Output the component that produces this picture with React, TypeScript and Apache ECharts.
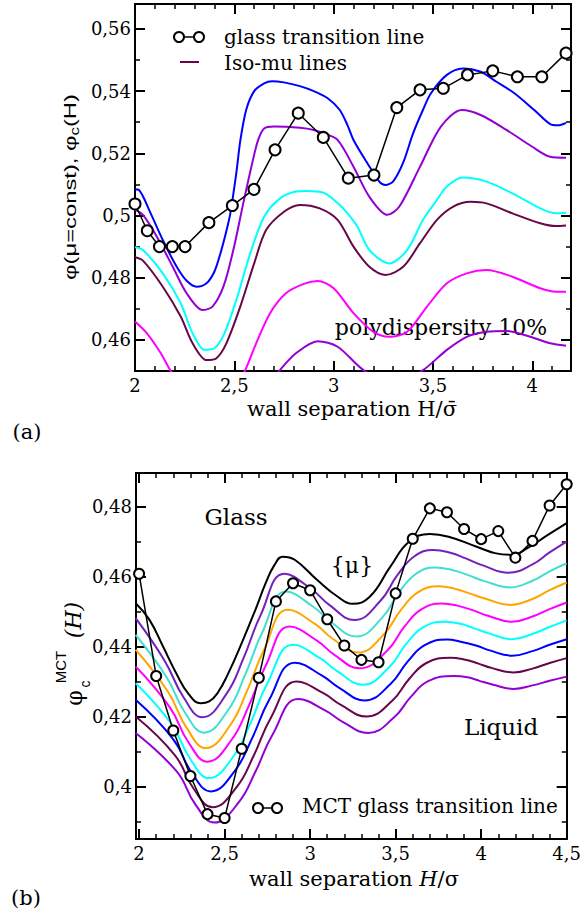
import React, { useEffect, useRef } from 'react';
import * as echarts from 'echarts';

// ---------- Panel (a) ----------
const aXMajor = [2, 2.5, 3, 3.5, 4];
const aXMinor = [2.1, 2.2, 2.3, 2.4, 2.6, 2.7, 2.8, 2.9, 3.1, 3.2, 3.3, 3.4, 3.6, 3.7, 3.8, 3.9, 4.1];
const aYMajor = [0.46, 0.48, 0.5, 0.52, 0.54, 0.56];
const aYMinor = [0.45, 0.47, 0.49, 0.51, 0.53, 0.55];

const aBlue = [[2.0,0.5084],[2.02,0.5082],[2.08,0.5005],[2.14,0.4921],[2.21,0.4835],[2.26,0.4790],[2.31,0.4771],[2.36,0.4782],[2.40,0.4820],[2.43,0.4878],[2.46,0.4950],[2.48,0.5007],[2.51,0.5136],[2.53,0.5240],[2.56,0.5340],[2.60,0.5400],[2.65,0.5425],[2.69,0.5432],[2.75,0.5428],[2.83,0.5416],[2.90,0.5400],[2.97,0.5377],[3.03,0.5340],[3.07,0.5290],[3.10,0.5243],[3.17,0.5168],[3.23,0.5109],[3.26,0.5098],[3.30,0.5110],[3.35,0.5170],[3.40,0.5264],[3.45,0.5340],[3.49,0.5393],[3.57,0.5452],[3.65,0.5473],[3.74,0.5462],[3.82,0.5430],[3.91,0.5393],[4.01,0.5339],[4.09,0.5294],[4.13,0.5290],[4.17,0.5298]];
const aViolet = [[2.0,0.5018],[2.04,0.5002],[2.11,0.4932],[2.19,0.4835],[2.26,0.4750],[2.34,0.4696],[2.39,0.4707],[2.445,0.4771],[2.495,0.4889],[2.545,0.5039],[2.59,0.5168],[2.62,0.5243],[2.65,0.5280],[2.70,0.5286],[2.83,0.5282],[2.90,0.5275],[2.96,0.5262],[3.02,0.5243],[3.10,0.5157],[3.18,0.5060],[3.27,0.5002],[3.33,0.5028],[3.435,0.5157],[3.54,0.5286],[3.645,0.5339],[3.74,0.5323],[3.87,0.5275],[4.0,0.5221],[4.09,0.5189],[4.17,0.5186]];
const aCyan = [[2.0,0.4898],[2.04,0.4889],[2.14,0.4814],[2.23,0.4718],[2.29,0.4621],[2.35,0.4568],[2.40,0.4573],[2.45,0.4621],[2.51,0.4728],[2.58,0.4878],[2.65,0.4996],[2.73,0.5055],[2.81,0.5077],[2.86,0.5079],[2.95,0.5073],[3.02,0.5040],[3.07,0.5007],[3.12,0.4964],[3.18,0.4889],[3.28,0.4846],[3.37,0.4889],[3.45,0.4986],[3.52,0.5050],[3.57,0.5093],[3.65,0.5122],[3.77,0.5109],[3.9,0.5071],[4.04,0.5023],[4.12,0.5007],[4.17,0.5009]];
const aMaroon = [[2.0,0.4866],[2.04,0.4855],[2.14,0.4771],[2.23,0.4675],[2.29,0.4589],[2.36,0.4535],[2.41,0.4541],[2.46,0.4589],[2.53,0.4707],[2.60,0.4846],[2.66,0.4953],[2.75,0.5012],[2.83,0.5034],[2.93,0.5023],[3.02,0.4986],[3.10,0.4900],[3.18,0.4835],[3.26,0.4809],[3.35,0.4835],[3.435,0.4911],[3.52,0.4986],[3.60,0.5028],[3.69,0.5044],[3.77,0.5039],[3.9,0.5007],[4.04,0.4975],[4.12,0.4966],[4.17,0.4968]];
const aMagenta = [[2.0,0.4659],[2.06,0.4621],[2.13,0.4557],[2.18,0.4500],[2.25,0.4440],[2.35,0.4395],[2.45,0.4405],[2.50,0.4440],[2.555,0.4503],[2.61,0.4589],[2.68,0.4686],[2.76,0.4750],[2.85,0.4780],[2.92,0.4789],[3.0,0.4766],[3.1,0.4686],[3.2,0.4626],[3.28,0.4610],[3.37,0.4626],[3.47,0.4707],[3.57,0.4782],[3.67,0.4814],[3.77,0.4825],[3.9,0.4803],[4.04,0.4766],[4.12,0.4755],[4.17,0.4755]];
const aViolet2 = [[2.0,0.4400],[2.2,0.4310],[2.4,0.4290],[2.6,0.4400],[2.73,0.4503],[2.81,0.4557],[2.92,0.4596],[3.02,0.4578],[3.15,0.4503],[3.3,0.4455],[3.45,0.4503],[3.57,0.4568],[3.67,0.4610],[3.77,0.4626],[3.87,0.4629],[3.99,0.4610],[4.09,0.4589],[4.17,0.4581]];
const aGlass = [[2.0,0.5037],[2.062,0.4951],[2.123,0.4900],[2.188,0.4900],[2.252,0.4900],[2.372,0.4977],[2.49,0.5032],[2.599,0.5084],[2.705,0.5211],[2.822,0.5329],[2.948,0.5251],[3.074,0.5120],[3.203,0.5130],[3.318,0.5347],[3.435,0.5404],[3.552,0.5409],[3.674,0.5452],[3.801,0.5465],[3.925,0.5446],[4.048,0.5446],[4.17,0.5522]];

// ---------- Panel (b) ----------
const bXMajor = [2, 2.5, 3, 3.5, 4, 4.5];
const bXMinor = [2.1, 2.2, 2.3, 2.4, 2.6, 2.7, 2.8, 2.9, 3.1, 3.2, 3.3, 3.4, 3.6, 3.7, 3.8, 3.9, 4.1, 4.2, 4.3, 4.4];
const bYMajor = [0.4, 0.42, 0.44, 0.46, 0.48];
const bYMinor = [0.39, 0.41, 0.43, 0.45, 0.47];

const bBlack = [[1.98,0.4524],[2.06,0.4477],[2.14,0.4400],[2.22,0.4321],[2.29,0.4264],[2.36,0.4238],[2.41,0.4243],[2.46,0.4268],[2.52,0.4322],[2.60,0.4410],[2.68,0.4505],[2.74,0.4581],[2.79,0.4632],[2.84,0.4657],[2.91,0.4648],[3.04,0.4591],[3.16,0.4543],[3.25,0.4522],[3.35,0.4543],[3.47,0.4629],[3.58,0.4700],[3.70,0.4722],[3.81,0.4714],[3.97,0.4686],[4.08,0.4667],[4.18,0.4662],[4.27,0.4681],[4.39,0.4719],[4.5,0.4753]];
const bIndigo = [[1.98,0.4481],[2.15,0.4359],[2.26,0.4255],[2.37,0.4198],[2.51,0.4264],[2.61,0.4366],[2.71,0.4489],[2.85,0.4608],[3.01,0.4563],[3.11,0.4520],[3.26,0.4476],[3.41,0.4530],[3.51,0.4604],[3.61,0.4658],[3.72,0.4676],[3.82,0.4668],[3.91,0.4652],[4.01,0.4632],[4.16,0.4611],[4.3,0.4635],[4.4,0.4669],[4.5,0.4700]];
const bTurquoise = [[1.98,0.4433],[2.16,0.4313],[2.27,0.4210],[2.38,0.4154],[2.52,0.4218],[2.62,0.4319],[2.72,0.4440],[2.86,0.4557],[3.02,0.4513],[3.12,0.4471],[3.27,0.4429],[3.42,0.4482],[3.52,0.4555],[3.62,0.4608],[3.73,0.4626],[3.83,0.4619],[3.92,0.4605],[4.02,0.4587],[4.17,0.4569],[4.3,0.4588],[4.4,0.4615],[4.5,0.4638]];
const bOrange = [[1.98,0.4391],[2.17,0.4270],[2.28,0.4166],[2.39,0.4110],[2.53,0.4173],[2.63,0.4272],[2.73,0.4390],[2.87,0.4505],[3.03,0.4464],[3.13,0.4423],[3.28,0.4383],[3.43,0.4434],[3.53,0.4504],[3.63,0.4555],[3.75,0.4572],[3.84,0.4566],[3.93,0.4552],[4.03,0.4536],[4.17,0.4519],[4.3,0.4536],[4.4,0.4561],[4.5,0.4583]];
const bMagenta = [[1.98,0.4343],[2.18,0.4226],[2.29,0.4125],[2.40,0.4071],[2.54,0.4133],[2.64,0.4229],[2.74,0.4345],[2.88,0.4457],[3.04,0.4417],[3.14,0.4377],[3.29,0.4338],[3.45,0.4388],[3.55,0.4456],[3.65,0.4506],[3.77,0.4523],[3.86,0.4517],[3.95,0.4504],[4.04,0.4488],[4.18,0.4471],[4.3,0.4486],[4.4,0.4507],[4.5,0.4526]];
const bCyan = [[1.98,0.4295],[2.19,0.4178],[2.30,0.4078],[2.41,0.4024],[2.55,0.4085],[2.65,0.4180],[2.75,0.4295],[2.90,0.4405],[3.06,0.4366],[3.16,0.4329],[3.31,0.4291],[3.46,0.4340],[3.56,0.4406],[3.66,0.4455],[3.79,0.4471],[3.88,0.4465],[3.96,0.4452],[4.05,0.4437],[4.18,0.4421],[4.3,0.4436],[4.4,0.4456],[4.5,0.4475]];
const bBlue = [[1.98,0.4248],[2.20,0.4135],[2.31,0.4038],[2.42,0.3986],[2.56,0.4045],[2.66,0.4137],[2.76,0.4247],[2.91,0.4354],[3.07,0.4317],[3.17,0.4282],[3.32,0.4246],[3.47,0.4293],[3.57,0.4357],[3.67,0.4404],[3.80,0.4420],[3.88,0.4414],[3.97,0.4403],[4.05,0.4389],[4.18,0.4374],[4.3,0.4387],[4.4,0.4405],[4.5,0.4421]];
const bMaroon = [[1.98,0.4200],[2.21,0.4089],[2.32,0.3993],[2.43,0.3941],[2.57,0.3998],[2.67,0.4088],[2.77,0.4196],[2.92,0.4300],[3.08,0.4266],[3.18,0.4233],[3.33,0.4200],[3.48,0.4245],[3.58,0.4308],[3.68,0.4353],[3.82,0.4368],[3.90,0.4363],[3.98,0.4352],[4.06,0.4339],[4.19,0.4326],[4.3,0.4337],[4.4,0.4353],[4.5,0.4367]];
const bViolet = [[1.98,0.4153],[2.22,0.4043],[2.33,0.3948],[2.44,0.3897],[2.58,0.3953],[2.68,0.4042],[2.78,0.4148],[2.93,0.4250],[3.09,0.4217],[3.19,0.4185],[3.34,0.4153],[3.49,0.4197],[3.59,0.4257],[3.69,0.4301],[3.84,0.4316],[3.92,0.4312],[3.99,0.4302],[4.07,0.4291],[4.19,0.4279],[4.3,0.4289],[4.4,0.4302],[4.5,0.4314]];
const bGlassX = [2.0, 2.1, 2.2, 2.3, 2.4, 2.5, 2.6, 2.7, 2.8, 2.9, 3.0, 3.1, 3.2, 3.3, 3.4, 3.5, 3.6, 3.7, 3.8, 3.9, 4.0, 4.1, 4.2, 4.3, 4.4, 4.5];
const bGlassY = [0.4608, 0.4316, 0.4160, 0.4030, 0.3921, 0.3910, 0.4108, 0.4311, 0.4529, 0.4581, 0.4561, 0.4478, 0.4403, 0.4362, 0.4355, 0.4552, 0.4708, 0.4795, 0.4784, 0.4736, 0.4707, 0.4730, 0.4654, 0.4702, 0.4803, 0.4864];

const SERIF = 'DejaVu Serif';
const SANS = 'Liberation Sans';
const fmt = (v: number) => String(v).replace('.', ',');

function xAxes(grid: number, min: number, max: number, major: number[], minor: number[]) {
  const base = { type: 'value', gridIndex: grid, min, max, splitLine: { show: false } };
  const line = { show: true, onZero: false, lineStyle: { color: '#000', width: 2 } };
  const majTick = { show: true, inside: true, length: 10, lineStyle: { color: '#000', width: 2 }, customValues: major };
  const minTick = { show: true, inside: true, length: 5, lineStyle: { color: '#000', width: 1.5 }, customValues: minor };
  return [
    { ...base, position: 'bottom', axisLine: line, axisTick: majTick,
      axisLabel: { show: true, customValues: major, formatter: fmt, margin: 5, color: '#000', fontSize: 18, fontFamily: SERIF } },
    { ...base, position: 'bottom', axisLine: { show: false, onZero: false }, axisTick: minTick, axisLabel: { show: false } },
    { ...base, position: 'top', axisLine: line, axisTick: majTick, axisLabel: { show: false } },
    { ...base, position: 'top', axisLine: { show: false, onZero: false }, axisTick: minTick, axisLabel: { show: false } },
  ];
}
function yAxes(grid: number, min: number, max: number, major: number[], minor: number[]) {
  const base = { type: 'value', gridIndex: grid, min, max, splitLine: { show: false } };
  const line = { show: true, onZero: false, lineStyle: { color: '#000', width: 2 } };
  const majTick = { show: true, inside: true, length: 10, lineStyle: { color: '#000', width: 2 }, customValues: major };
  const minTick = { show: true, inside: true, length: 5, lineStyle: { color: '#000', width: 1.5 }, customValues: minor };
  return [
    { ...base, position: 'left', axisLine: line, axisTick: majTick,
      axisLabel: { show: true, customValues: major, formatter: fmt, margin: 4, color: '#000', fontSize: 18, fontFamily: SERIF } },
    { ...base, position: 'left', axisLine: { show: false, onZero: false }, axisTick: minTick, axisLabel: { show: false } },
    { ...base, position: 'right', axisLine: line, axisTick: majTick, axisLabel: { show: false } },
    { ...base, position: 'right', axisLine: { show: false, onZero: false }, axisTick: minTick, axisLabel: { show: false } },
  ];
}

function curve(data: number[][], color: string, xi: number, smooth = 0.3) {
  return {
    type: 'line', xAxisIndex: xi, yAxisIndex: xi, data, showSymbol: false, symbol: 'none',
    smooth, clip: true, silent: true, lineStyle: { color, width: 2 }, z: 2,
  };
}
function glass(data: number[][], xi: number, size: number) {
  return {
    type: 'line', xAxisIndex: xi, yAxisIndex: xi, data, symbol: 'emptyCircle', symbolSize: size,
    showSymbol: true, clip: false, silent: true, lineStyle: { color: '#000', width: 1.5 },
    itemStyle: { color: '#000', borderColor: '#000', borderWidth: 2 }, z: 3,
  };
}

function txt(text: string, x: number, y: number, size: number, extra: any = {}, styleExtra: any = {}) {
  return {
    type: 'text', x, y, silent: true, ...extra,
    style: { text, fontSize: size, fontFamily: SERIF, fill: '#000', align: 'center', verticalAlign: 'middle',
      textAlign: 'center', textVerticalAlign: 'middle', ...styleExtra },
  };
}
function oo(x1: number, x2: number, y: number) {
  return [
    { type: 'line', silent: true, shape: { x1, y1: y, x2, y2: y }, style: { stroke: '#000', lineWidth: 1.5 } },
    { type: 'circle', silent: true, shape: { cx: x1, cy: y, r: 5 }, style: { fill: '#fff', stroke: '#000', lineWidth: 2 } },
    { type: 'circle', silent: true, shape: { cx: x2, cy: y, r: 5 }, style: { fill: '#fff', stroke: '#000', lineWidth: 2 } },
  ];
}

const bGlass = bGlassX.map((x, i) => [x, bGlassY[i]]);

const option: any = {
  animation: false,
  backgroundColor: '#fff',
  grid: [
    { left: 135, top: 4, width: 436, height: 367 },
    { left: 136, top: 473, width: 436, height: 366 },
  ],
  xAxis: [...xAxes(0, 2, 4.195, aXMajor, aXMinor), ...xAxes(1, 1.982, 4.5, bXMajor, bXMinor)],
  yAxis: [...yAxes(0, 0.45, 0.568, aYMajor, aYMinor), ...yAxes(1, 0.385, 0.4896, bYMajor, bYMinor)],
  series: [
    curve(aBlue, '#0000ff', 0),
    curve(aViolet, '#9400d3', 0),
    curve(aCyan, '#00ffff', 0),
    curve(aMaroon, '#670748', 0),
    curve(aMagenta, '#ff00ff', 0),
    curve(aViolet2, '#9400d3', 0),
    glass(aGlass, 0, 11),
    curve(bBlack, '#000000', 4, 0.45),
    curve(bIndigo, '#7221bc', 4, 0.45),
    curve(bTurquoise, '#40e0d0', 4, 0.45),
    curve(bOrange, '#ffa500', 4, 0.45),
    curve(bMagenta, '#ff00ff', 4, 0.45),
    curve(bCyan, '#00ffff', 4, 0.45),
    curve(bBlue, '#0000ff', 4, 0.45),
    curve(bMaroon, '#670748', 4, 0.45),
    curve(bViolet, '#9400d3', 4, 0.45),
    glass(bGlass, 4, 10),
  ],
  graphic: {
    elements: [
      // panel (a) legend
      ...oo(179, 199, 37),
      txt('glass transition line', 224, 37, 20, {}, { align: 'left', textAlign: 'left' }),
      { type: 'line', silent: true, shape: { x1: 180, y1: 62, x2: 199, y2: 62 }, style: { stroke: '#670748', lineWidth: 2 } },
      txt('Iso-mu lines', 224, 63, 20, {}, { align: 'left', textAlign: 'left' }),
      txt('polydispersity 10%', 441, 327, 22),
      txt('wall separation H/\u03c3\u0304', 352, 409, 21),
      txt('(a)', 27, 432, 21),
      txt('{m|\u03c6(\u03bc=const), \u03c6}{s|c}{m|(H)}', 70, 187, 17, { rotation: Math.PI / 2, scaleX: 1.4 },
        { fontFamily: SANS, rich: {
          m: { fontSize: 17, fontFamily: SANS, lineHeight: 22 },
          s: { fontSize: 12, fontFamily: SANS, lineHeight: 12, verticalAlign: 'bottom' },
        } }),
      // panel (b)
      txt('Glass', 236, 517, 23),
      txt('{\u03bc}', 352, 565, 22),
      txt('Liquid', 501, 727, 23),
      ...oo(258, 277, 808),
      txt('MCT glass transition line', 302, 806, 20, {}, { align: 'left', textAlign: 'left' }),
      txt('{n|wall separation }{i|H}{n|/\u03c3}', 354, 879, 21, {}, { rich: {
        n: { fontSize: 21, fontFamily: SERIF },
        i: { fontSize: 21, fontFamily: SERIF, fontStyle: 'italic' },
      } }),
      txt('(b)', 26, 898, 21),
      txt('\u03c6', 74, 698, 22, { rotation: Math.PI / 2 }),
      txt('c', 85, 684, 14, { rotation: Math.PI / 2 }, { fontFamily: SANS }),
      txt('MCT', 60, 667, 15, { rotation: Math.PI / 2 }, { fontFamily: SANS }),
      txt('(H)', 73, 620, 22, { rotation: Math.PI / 2 }, { fontStyle: 'italic' }),
    ],
  },
};

export default function App() {
  const ref = useRef<HTMLDivElement>(null);
  useEffect(() => {
    const chart = echarts.init(ref.current!, null, { renderer: 'svg' });
    chart.setOption(option);
    return () => chart.dispose();
  }, []);
  return (
    <div
      ref={ref}
      style={{ position: 'absolute', left: 0, top: 0, width: 584, height: 917, background: '#fff' }}
    />
  );
}
